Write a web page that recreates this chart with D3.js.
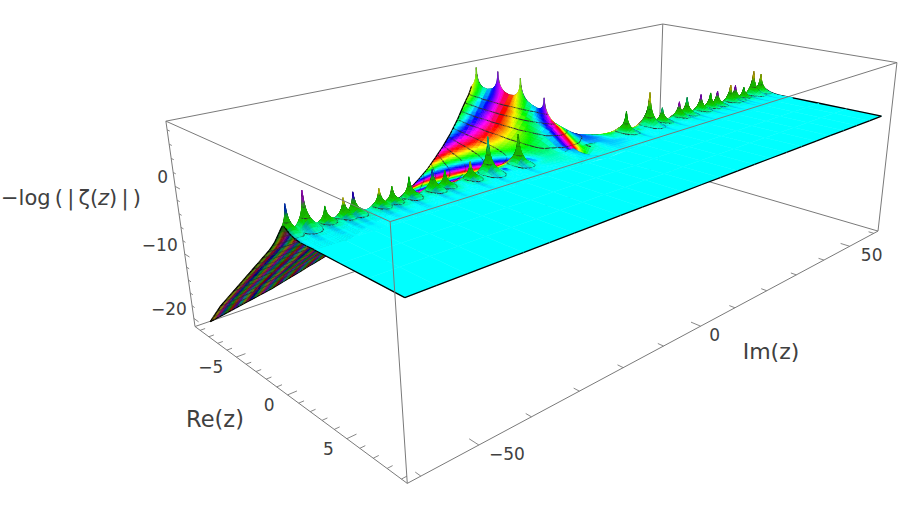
<!DOCTYPE html>
<html><head><meta charset="utf-8">
<style>html,body{margin:0;padding:0;background:#fff}svg{display:block}text{font-family:"DejaVu Sans",sans-serif;fill:#404040}</style>
<script src="https://cdn.jsdelivr.net/npm/d3@7"></script></head>
<body><svg id="chart" width="900" height="510"></svg>
<script>
// ---------- values ----------
const reTicks=[-5,0,5], imTicks=[-50,0,50], zTicks=[-20,-10,0];
const zeroIm=[14.13,21.02,25.01,30.42,32.94,37.59,40.92,43.33,48.01,49.77,52.97,56.45,59.35];
const tipZLeft =[4.5,5.3,2.4,2.2,2.8,2.7,2.1,2.3,2.8,2.4,2.0,4.8,3.7];
const tipZRight=[3.4,5.5,2.3,2.5,2.9,2.7,2.5,2.5,2.9,2.6,1.8,4.3,3.4];
const tipHueLeft =[.3,.45,.22,.33,.6,.33,.3,.17,.7,.17,.33,.8,.62];
const tipHueRight=[.33,.17,.42,.8,.42,.78,.33,.78,.15,.78,.33,.15,.2];
const trivialRe=[-8,-6,-4,-2];
const trivialTipZ=[8.7,8.9,8.7,6.5];
const spikeDist=[0,.03,.06,.1,.17,.27,.42,.65,1];
const spikeLift=[1,.74,.6,.48,.36,.25,.14,.05,0];
const meshLevels=[4,2.7,1.4,.1,-1.2,-2.5,-3.8,-5.1,-6.4,-7.7,-9,-10.3,-11.6,-12.9,-14.2,-15.5,-16.8,-18.1,-19.4,-20.7];

const surfRe=[-8.5,-7,-5,-3,-1,0,.5,1,1.5,2,3,9];
const surfIm=[0,2,4,6,8,10,12,14,16,24,36,48,60];
const surfZ=[
[4.9,2.66,.1,-2.07,-3.9,-5.5,-7,-8.2,-9.3,-12.7,-16.4,-18.9,-20.8],
[5.5,3.3,.9,-1.15,-2.7,-4.1,-5.3,-6.4,-7.3,-10.05,-13.1,-15.2,-16.9],
[5.5,3.4,1.16,-.42,-1.75,-2.85,-3.8,-4.6,-5.3,-7.37,-9.6,-11.2,-12.4],
[4.8,2.85,1.15,-.06,-1,-1.75,-2.4,-2.9,-3.3,-4.7,-6.1,-7.1,-7.9],
[2.5,1.77,.77,-.03,-.5,-.75,-.97,-1.2,-1.4,-2,-2.6,-3.05,-3.4],
[.69,.3,-.1,-.1,-.2,-.3,-.2,-.3,-.4,-.66,-.87,-1,-1.13],
[-.38,-.2,-.25,-.25,-.25,-.25,-.25,-.25,-.25,-.25,-.25,-.25,-.25],
[-2.5,.37,.2,0,-.25,-.3,-.2,-.2,-.2,-.2,-.2,-.2,-.2],
[-.96,.1,.1,-.1,-.1,-.1,-.1,-.1,-.1,-.1,-.1,-.1,-.1],
[-.5,0,.05,-.05,-.08,-.05,-.05,-.05,-.05,-.05,-.05,-.05,-.05],
[-.18,0,0,0,0,0,0,0,0,0,0,0,0],
[0,0,0,0,0,0,0,0,0,0,0,0,0]];

const hueRe=[-9,-7,-5,-3,-1,0];
const hueIm=[0,2,4,6,8,10,12,14,16,24,32,40,48,60];
const hueTurns=[
[0,.134,.281,.452,.654,.887,1.154,1.453,1.78,3.384,5.354,7.62,10.11,14.26],
[.5,.56,.64,.756,.912,1.108,1.351,1.625,1.947,3.49,5.436,7.68,10.18,14.3],
[1,.965,.965,1.02,1.131,1.295,1.51,1.76,2.06,3.577,5.5,7.734,10.224,14.33],
[1.5,1.33,1.233,1.223,1.291,1.428,1.622,1.864,2.15,3.637,5.545,7.77,10.253,14.357],
[2,1.556,1.413,1.368,1.405,1.507,1.692,1.921,2.2,3.67,5.57,7.79,10.27,14.37],
[2,1.601,1.438,1.415,1.442,1.53,1.7,1.935,2.21,3.68,5.58,7.8,10.28,14.38]];
const frontRe=[.5,1,1.5,2,3,9];
const frontIm=[0,2,4,6,8,10,12];
const frontTurns=[
[2,1.58,1.46,1.44,1.46,1.52,1.62],
[1.75,1.58,1.5,1.46,1.46,1.47,1.5],
[1.5,1.53,1.5,1.47,1.47,1.48,1.5],
[1.5,1.52,1.5,1.48,1.49,1.5,1.5],
[1.5,1.5,1.5,1.5,1.5,1.5,1.5],
[1.5,1.5,1.5,1.5,1.5,1.5,1.5]];

// ---------- frame ----------
const reBox=[-9.6,9.4], imBox=[-62.2,61.8], zBox=[-21.3,9.2];
const surfaceReSpan=[-8.9,9.8];
const surfBounds={reMin:-8.5,reMax:9.45,imMax:60};
const boxCorners=[[0,0,1,166,121],[0,0,0,195,326.7],[0,1,1,390,221.7],[0,1,0,407.3,483.3],
                  [1,1,1,897,62.7],[1,1,0,878,231],[1,0,1,662.7,24]];
const U=d3.scaleLinear().domain(imBox).range([0,1]);
const V=d3.scaleLinear().domain(reBox).range([0,1]);
const VS=d3.scaleLinear().domain(surfaceReSpan).range([0,1]);
const W=d3.scaleLinear().domain(zBox).range([0,1]);
function fitProjection(){
  const A=[],B=[];
  boxCorners.forEach(([u,v,w,x,y])=>{
    A.push([1,u,v,w,0,0,0,0,-x*u,-x*v,-x*w]);B.push(x);
    A.push([0,0,0,0,1,u,v,w,-y*u,-y*v,-y*w]);B.push(y);
  });
  const n=11,M=d3.range(n).map(i=>d3.range(n+1).map(j=>{
    let s=0;A.forEach((r,k)=>{s+=r[i]*(j<n?r[j]:B[k]);});return s;}));
  for(let i=0;i<n;i++){
    let p=i;for(let k=i+1;k<n;k++)if(Math.abs(M[k][i])>Math.abs(M[p][i]))p=k;
    [M[i],M[p]]=[M[p],M[i]];
    for(let k=0;k<n;k++)if(k!==i){const f=M[k][i]/M[i][i];for(let j=i;j<=n;j++)M[k][j]-=f*M[i][j];}
  }
  return M.map((r,i)=>r[n]/r[i]);
}
const P=fitProjection();
function projectUVW(u,v,w){
  const d=1+P[8]*u+P[9]*v+P[10]*w;
  return [(P[0]+P[1]*u+P[2]*v+P[3]*w)/d,(P[4]+P[5]*u+P[6]*v+P[7]*w)/d,d];
}
const project=(re,im,z)=>projectUVW(U(im),V(re),W(z));
const projectSurface=(re,im,z)=>projectUVW(U(im),VS(re),W(z));

// ---------- lookups ----------
function bil(rows,cols,t,r,c){
  r=Math.max(rows[0],Math.min(rows[rows.length-1],r));
  c=Math.max(cols[0],Math.min(cols[cols.length-1],c));
  const i=Math.min(rows.length-2,d3.bisectRight(rows,r)-1), j=Math.min(cols.length-2,d3.bisectRight(cols,c)-1);
  const a=(r-rows[i])/(rows[i+1]-rows[i]), b=(c-cols[j])/(cols[j+1]-cols[j]);
  return (1-a)*((1-b)*t[i][j]+b*t[i][j+1])+a*((1-b)*t[i+1][j]+b*t[i+1][j+1]);
}
const spike=d3.scaleLinear().domain(spikeDist).range(spikeLift).clamp(true);
const baseZ=(re,im)=>bil(surfRe,surfIm,surfZ,re,Math.abs(im));
const smooth=(x,a,b)=>{const t=Math.max(0,Math.min(1,(x-a)/(b-a)));return t*t*(3-2*t);};
function nearestZero(re,im){
  const T=Math.abs(im);let best=0,idx=-1;
  for(let k=0;k<zeroIm.length;k++){
    const dI=(T-zeroIm[k])/3.2; if(Math.abs(dI)>=1)continue;
    const dR=(re-.5)/1.5, d=Math.sqrt(dI*dI+dR*dR), g=spike(d);
    if(g>best){best=g;idx=k;}
  }
  return [best,idx];
}
function surfaceZ(re,im){
  let z=baseZ(re,im);
  const [g,k]=nearestZero(re,im);
  if(k>=0){const tip=(im<0?tipZLeft:tipZRight)[k];z+=g*(tip-baseZ(.5,zeroIm[k]));}
  trivialRe.forEach((r,i)=>{
    const d=Math.sqrt((re-r)*(re-r)+im*im);
    if(d<1)z+=spike(d)*(trivialTipZ[i]-baseZ(r,0));
  });
  return z;
}
const hueCol=h=>{const f=((h%1)+1)%1;return d3.rgb(d3.hsl(f*360,1,.5));};
const mixCol=(a,b,t)=>({r:a.r+(b.r-a.r)*t,g:a.g+(b.g-a.g)*t,b:a.b+(b.b-a.b)*t});
function surfaceColor(re,im){
  const T=Math.abs(im), flip=h=>im>0?1-h:h;
  let c;
  if(T<=12){
    let h;
    if(re<=0)h=bil(hueRe,hueIm,hueTurns,re,T);
    else if(re>=.5)h=bil(frontRe,frontIm,frontTurns,re,T);
    else{const a=re/.5;h=(1-a)*bil(hueRe,hueIm,hueTurns,0,T)+a*bil(frontRe,frontIm,frontTurns,.5,T);}
    c=hueCol(flip(h));
  }else{
    const L=hueCol(flip(bil(hueRe,hueIm,hueTurns,Math.min(re,0),T)));
    const R=hueCol(flip(bil(frontRe,frontIm,frontTurns,Math.max(re,.5),12)));
    c=mixCol(L,R,smooth(re,0,.5));
  }
  const [g,k]=nearestZero(re,im);
  if(k>=0){
    const F=smooth(re,-.3,.4);
    c=mixCol(c,hueCol(.5-.19*Math.min(1,g/.3)),F*Math.min(1,g/.03));
    const tipH=(im<0?tipHueLeft:tipHueRight)[k];
    c=mixCol(c,hueCol(tipH),smooth(g,.55,.85));
    const sh=1-.3*Math.min(1,Math.max(0,(g-.08)/.3));
    c={r:c.r*sh,g:c.g*sh,b:c.b*sh};
  }
  if(re>.8){
    for(const t of zeroIm){
      const dT=T-t;
      if(dT>0&&dT<1.6){
        const s=(1-Math.abs(dT-.8)/.8)*(1-smooth(re,.9,3.2));
        c=mixCol(c,hueCol(.6),.5*s);
      }
    }
  }
  return c;
}

// ---------- mesh lines ----------
function uniq(a){return Array.from(new Set(a.map(v=>+v.toFixed(3)))).sort(d3.ascending);}
const zeroOffs=[.03,.08,.15,.28,.5,.85,1.3,1.9];
const trivOffs=[.04,.1,.2,.35,.6];
const crestIm=[0,.04,.1,.2,.35,.6,.9,1.3,1.7].flatMap(v=>[v,-v]);
const reA=uniq([...d3.range(-8.5,-1,.5),-1,...trivialRe.flatMap(r=>[r,...trivOffs.flatMap(o=>[r-o,r+o])])]).filter(v=>v>=-8.5&&v<=-1);
const imA=uniq([...d3.range(-60,-20,.8),...d3.range(-20,-2,.5),...crestIm,...d3.range(2,20,1.5),-60]);
const reB=[-1,-.7,-.4,-.2,0,.15,.3,.4,.45,.48,.5,.52,.55,.6,.7,.85,1,1.2,1.5,1.9,2.4,3];
const imB=uniq([...d3.range(-60,60.01,1),...crestIm,...zeroIm.flatMap(t=>[t,-t,...zeroOffs.flatMap(o=>[t-o,t+o,-t-o,-t+o])])]).filter(v=>v>=-60&&v<=60);
const reC=[3,5,7,surfBounds.reMax];
const imC=d3.range(-60,60.01,5);

const items=[];
function addPatch(res,ims){
  const zs=res.map(r=>ims.map(m=>surfaceZ(r,m)));
  const pts=res.map((r,i)=>ims.map((m,j)=>projectSurface(r,m,zs[i][j])));
  for(let i=0;i<res.length-1;i++)for(let j=0;j<ims.length-1;j++){
    const q=[pts[i][j],pts[i][j+1],pts[i+1][j+1],pts[i+1][j]];
    const qz=[zs[i][j],zs[i][j+1],zs[i+1][j+1],zs[i+1][j]];
    let area=0;for(let k=0;k<4;k++){const a=q[k],b=q[(k+1)%4];area+=a[0]*b[1]-b[0]*a[1];}
    const rc=(res[i]+res[i+1])/2,mc=(ims[j]+ims[j+1])/2;
    let c=surfaceColor(rc,mc);
    if(area<0)c={r:c.r*.48,g:c.g*.48,b:c.b*.48};
    const fill=`rgb(${Math.round(c.r)},${Math.round(c.g)},${Math.round(c.b)})`;
    const depth=d3.mean(q,p=>p[2]);
    const d='M'+q.map(p=>p[0].toFixed(2)+','+p[1].toFixed(2)).join('L')+'Z';
    let lines='';
    const zmin=d3.min(qz),zmax=d3.max(qz);
    for(const L of meshLevels){
      if(L<=zmin||L>=zmax)continue;
      const cross=[];
      for(let k=0;k<4;k++){
        const a=qz[k],b=qz[(k+1)%4];
        if((a-L)*(b-L)<0){const t=(L-a)/(b-a),A=q[k],B=q[(k+1)%4];cross.push([A[0]+(B[0]-A[0])*t,A[1]+(B[1]-A[1])*t]);}
      }
      for(let k=0;k+1<cross.length;k+=2)lines+=`M${cross[k][0].toFixed(2)},${cross[k][1].toFixed(2)}L${cross[k+1][0].toFixed(2)},${cross[k+1][1].toFixed(2)}`;
    }
    let edge='';
    const seg=(a,b)=>{edge+=`M${a[0].toFixed(2)},${a[1].toFixed(2)}L${b[0].toFixed(2)},${b[1].toFixed(2)}`;};
    if(ims[j]===-60)seg(q[0],q[3]);
    if(ims[j+1]===60)seg(q[1],q[2]);
    if(res[i]===surfBounds.reMin)seg(q[0],q[1]);
    if(res[i+1]===surfBounds.reMax)seg(q[2],q[3]);
    items.push({d,fill,depth,lines,edge});
  }
}
addPatch(reA,imA);addPatch(reB,imB);addPatch(reC,imC);
items.sort((a,b)=>b.depth-a.depth);

// ---------- drawing ----------
const svg=d3.select('#chart');
const lineGen=d3.line();
const boxEdge=(a,b)=>lineGen([project(...a),project(...b)].map(p=>[p[0],p[1]]));
const [r0,r1]=reBox,[m0,m1]=imBox,[z0,z1]=zBox;
const backEdges=[[[r0,m0,z1],[r0,m1,z1]],[[r0,m1,z1],[r1,m1,z1]],[[r0,m1,z1],[r0,m1,z0]],[[r0,m0,z0],[r0,m1,z0]],[[r0,m1,z0],[r1,m1,z0]]];
const frontEdges=[[[r0,m0,z1],[r1,m0,z1]],[[r1,m0,z1],[r1,m1,z1]],[[r1,m0,z1],[r1,m0,z0]],[[r0,m0,z1],[r0,m0,z0]],[[r1,m1,z1],[r1,m1,z0]],[[r0,m0,z0],[r1,m0,z0]],[[r1,m0,z0],[r1,m1,z0]]];
const edgeStyle=s=>s.attr('fill','none').attr('stroke','#7a7a7a').attr('stroke-width',1);
edgeStyle(svg.append('g').attr('class','box-back').selectAll('path').data(backEdges).join('path').attr('d',e=>boxEdge(e[0],e[1])));

const flat=[];
items.forEach(q=>{
  flat.push({d:q.d,fill:q.fill,stroke:q.fill,sw:.5});
  if(q.lines)flat.push({d:q.lines,fill:'none',stroke:'#303030',sw:1.05});
  if(q.edge)flat.push({d:q.edge,fill:'none',stroke:'#000',sw:1.3});
});
svg.append('g').attr('class','surface').selectAll('path').data(flat).join('path')
  .attr('d',f=>f.d).attr('fill',f=>f.fill).attr('stroke',f=>f.stroke).attr('stroke-width',f=>f.sw).attr('stroke-linejoin','round');

edgeStyle(svg.append('g').attr('class','box-front').selectAll('path').data(frontEdges).join('path').attr('d',e=>boxEdge(e[0],e[1])));

// ticks
const ticks=[];
d3.range(-9,10).forEach(r=>{const M=r%5===0,l=M?1.6:.9;ticks.push([[r,m0,z0],[r,m0+l,z0]]);});
d3.range(-60,61,10).forEach(m=>{const M=m%50===0,l=M?.65:.38;ticks.push([[r1,m,z0],[r1-l,m,z0]]);});
d3.range(-20,9,2).forEach(z=>{const M=z%10===0,l=M?.55:.3;ticks.push([[r0,m0,z],[r0+l,m0,z]]);});
svg.append('g').attr('class','ticks').selectAll('path').data(ticks).join('path')
  .attr('d',e=>boxEdge(e[0],e[1])).attr('stroke','#7a7a7a').attr('stroke-width',.9).attr('fill','none');

const fmt=v=>v<0?'\u2212'+Math.abs(v):String(v);
const lab=svg.append('g').attr('class','labels').attr('font-size',17);
lab.selectAll('text.re').data(reTicks).join('text').attr('class','re').attr('text-anchor','end')
  .attr('x',v=>project(v,m0,z0)[0]-13).attr('y',v=>project(v,m0,z0)[1]+16).text(fmt);
lab.selectAll('text.im').data(imTicks).join('text').attr('class','im').attr('text-anchor','middle')
  .attr('x',v=>project(r1,v,z0)[0]+(v<0?28:v>0?22:14)).attr('y',v=>project(r1,v,z0)[1]+15).text(fmt);
lab.selectAll('text.z').data(zTicks).join('text').attr('class','z').attr('text-anchor','end')
  .attr('x',v=>project(r0,m0,v)[0]-7).attr('y',v=>project(r0,m0,v)[1]-3).text(fmt);

svg.append('text').attr('x',215).attr('y',427).attr('text-anchor','middle').attr('font-size',22.5).text('Re(z)');
svg.append('text').attr('x',771).attr('y',359).attr('text-anchor','middle').attr('font-size',22).text('Im(z)');
const zt=svg.append('text').attr('x',1).attr('y',205).attr('font-size',21);
zt.append('tspan').text('\u2212log\u2009(\u2009|\u2009\u03B6(');
zt.append('tspan').attr('font-style','italic').text('z');
zt.append('tspan').text(')\u2009|\u2009)');
</script></body></html>
